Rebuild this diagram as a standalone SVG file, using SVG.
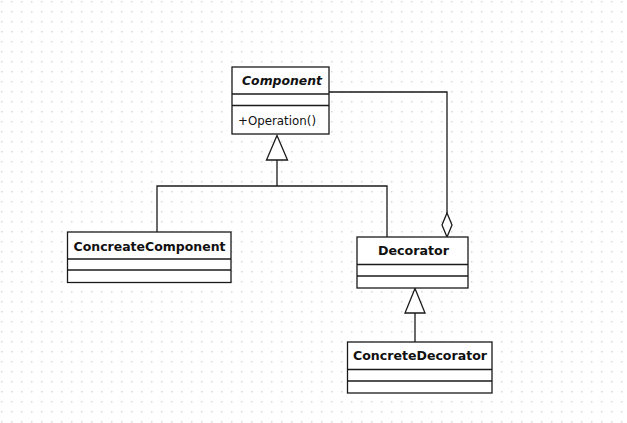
<svg xmlns="http://www.w3.org/2000/svg" width="627" height="423" viewBox="0 0 627 423">
<defs>
<pattern id="grid" x="0" y="0" width="10" height="10" patternUnits="userSpaceOnUse">
<rect x="1" y="1" width="1.5" height="1.5" fill="#d8d8d8"/>
</pattern>
<marker id="tri" markerUnits="userSpaceOnUse" markerWidth="24" markerHeight="26" refX="11" refY="1" orient="0" viewBox="0 0 24 26" overflow="visible">
<path d="M11,1 L21.5,25 L0.5,25 Z" fill="#fff" stroke="#1a1a1a" stroke-width="1.2"/>
</marker>
<marker id="dia" markerUnits="userSpaceOnUse" markerWidth="12" markerHeight="26" refX="6" refY="24" orient="0" viewBox="0 0 12 26" overflow="visible">
<path d="M6,0 L11,12 L6,24 L1,12 Z" fill="#fff" stroke="#1a1a1a" stroke-width="1.2"/>
</marker>
</defs>
<style>
.box{fill:#fff;stroke:#1a1a1a;stroke-width:1.3}
.sep{stroke:#1a1a1a;stroke-width:1.3}
.conn{fill:none;stroke:#1a1a1a;stroke-width:1.3}
.name{font-family:"DejaVu Sans",Verdana,sans-serif;font-weight:bold;font-size:12.5px;fill:#111;text-anchor:middle}
.op{font-family:"DejaVu Sans",Verdana,sans-serif;font-size:12px;fill:#111}
</style>
<rect width="627" height="423" fill="#fff"/>
<rect width="627" height="423" fill="url(#grid)"/>

<g id="connectors">
<!-- generalization to Component -->
<path class="conn" d="M157,232 V186 H387 V237"/>
<path class="conn" d="M277,186 V160"/>
<path d="M277,135.5 L287.5,160 L266.5,160 Z" fill="#fff" stroke="#1a1a1a" stroke-width="1.3"/>
<!-- aggregation Decorator -> Component -->
<path class="conn" d="M329,92 H447 V213"/>
<path d="M447,213 L452,225 L447,237 L442,225 Z" fill="#fff" stroke="#1a1a1a" stroke-width="1.3"/>
<!-- generalization ConcreteDecorator -> Decorator -->
<path class="conn" d="M415,342 V313"/>
<path d="M415,288.5 L425,313 L405,313 Z" fill="#fff" stroke="#1a1a1a" stroke-width="1.3"/>
</g>

<g id="Component">
<rect class="box" x="232" y="67" width="97" height="67"/>
<line class="sep" x1="232" y1="94" x2="329" y2="94"/>
<line class="sep" x1="232" y1="105.5" x2="329" y2="105.5"/>
<text class="name" x="282" y="85" font-style="italic" textLength="80" lengthAdjust="spacingAndGlyphs">Component</text>
<text class="op" x="238" y="124.5" textLength="78" lengthAdjust="spacingAndGlyphs">+Operation()</text>
</g>

<g id="ConcreateComponent">
<rect class="box" x="67.5" y="232" width="163.5" height="50.5"/>
<line class="sep" x1="67.5" y1="259" x2="231" y2="259"/>
<line class="sep" x1="67.5" y1="270" x2="231" y2="270"/>
<text class="name" x="149.5" y="250.5" textLength="152" lengthAdjust="spacingAndGlyphs">ConcreateComponent</text>
</g>

<g id="Decorator">
<rect class="box" x="357" y="237" width="111" height="51"/>
<line class="sep" x1="357" y1="264.5" x2="468" y2="264.5"/>
<line class="sep" x1="357" y1="276" x2="468" y2="276"/>
<text class="name" x="413.5" y="255" textLength="71" lengthAdjust="spacingAndGlyphs">Decorator</text>
</g>

<g id="ConcreteDecorator">
<rect class="box" x="347.5" y="342" width="144.5" height="51"/>
<line class="sep" x1="347.5" y1="369.5" x2="492" y2="369.5"/>
<line class="sep" x1="347.5" y1="381" x2="492" y2="381"/>
<text class="name" x="420" y="359.5" textLength="134" lengthAdjust="spacingAndGlyphs">ConcreteDecorator</text>
</g>
</svg>
